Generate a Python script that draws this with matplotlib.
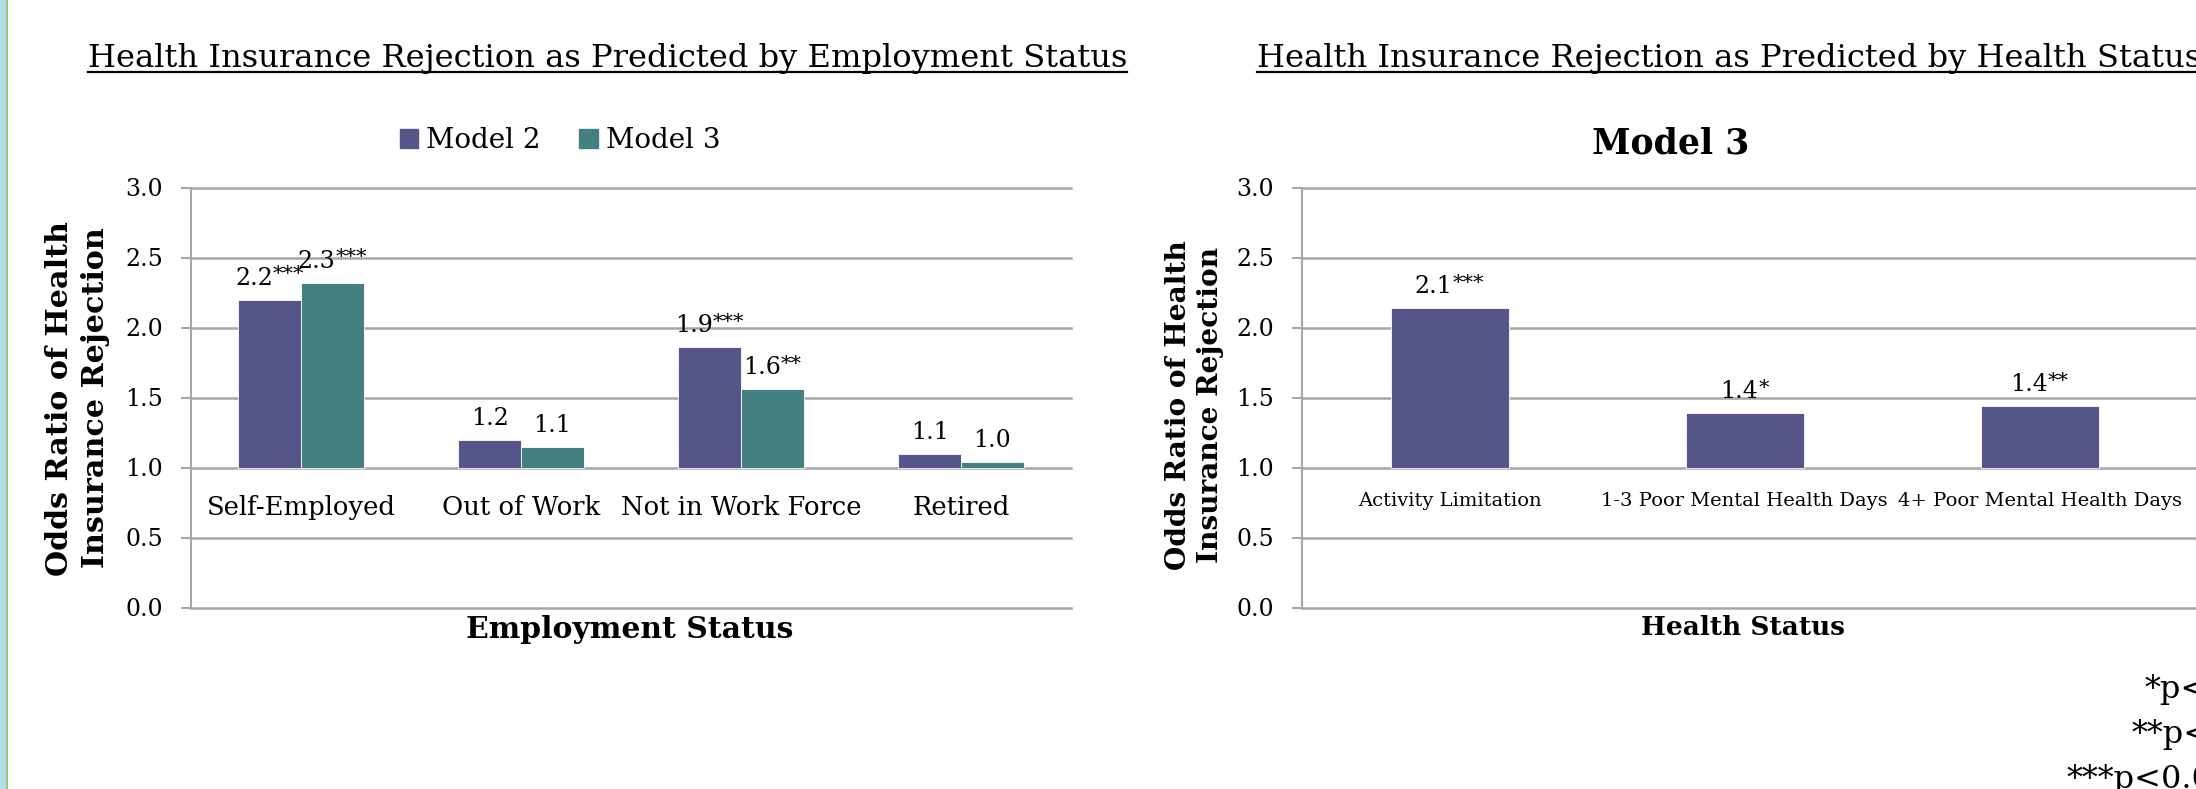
import matplotlib
matplotlib.use("Agg")
import numpy as np
import matplotlib.pyplot as plt
from matplotlib.lines import Line2D
from matplotlib.patches import Patch, Rectangle
from matplotlib.transforms import IdentityTransform

# ---------------- data ----------------
emp_categories = ["Self-Employed", "Out of Work", "Not in Work Force", "Retired"]
model2_values = [2.20, 1.20, 1.86, 1.10]
model3_values = [2.32, 1.15, 1.56, 1.04]
model2_text = ["2.2", "1.2", "1.9", "1.1"]
model2_stars = ["***", "", "***", ""]
model3_text = ["2.3", "1.1", "1.6", "1.0"]
model3_stars = ["***", "", "**", ""]

health_categories = ["Activity Limitation", "1-3 Poor Mental Health Days",
                     "4+ Poor Mental Health Days"]
health_values = [2.14, 1.39, 1.44]
health_text = ["2.1", "1.4", "1.4"]
health_stars = ["***", "*", "**"]

y_ticks = [0.0, 0.5, 1.0, 1.5, 2.0, 2.5, 3.0]
y_ticklabels = ["0.0", "0.5", "1.0", "1.5", "2.0", "2.5", "3.0"]
bar_base = 1.0
series_names = ["Model 2", "Model 3"]
footnotes = ["*p<0.05", "**p<0.01", "***p<0.001"]

left_title = "Health Insurance Rejection as Predicted by Employment Status"
right_title = "Health Insurance Rejection as Predicted by Health Status"
ylabel_lines = ["Odds Ratio of Health", "Insurance Rejection"]

# ---------------- style ----------------
C2 = "#55558A"
C3 = "#447F82"
GRID = "#A6A6A6"

plt.rcParams['font.family'] = ['DejaVu Serif']

W, H = 2196, 789
DPI = 100
PT = 72.0 / DPI
fig = plt.figure(figsize=(W / DPI, H / DPI), dpi=DPI)
renderer = fig.canvas.get_renderer()


def fx(x):
    return x / W


def fy(y):
    return 1 - y / H


def fit_width(t, target):
    w = t.get_window_extent(renderer).width
    t.set_fontsize(t.get_fontsize() * target / w)


def fit_height(t, target):
    h = t.get_window_extent(renderer).height
    t.set_fontsize(t.get_fontsize() * target / h)


def text_width(s, fs):
    p = fig.text(0, 0, s, fontsize=fs)
    w = p.get_window_extent(renderer).width
    p.remove()
    return w


# left decorative border
fig.add_artist(Rectangle((0, 0), fx(6), 1, transform=fig.transFigure,
                         color="#B2DCE8", lw=0))
fig.add_artist(Rectangle((fx(6), 0), fx(2.2), 1, transform=fig.transFigure,
                         color="#9CC86A", lw=0))

AX_TOP, AX_BOT = 187.5, 607.5


def style_axes(ax):
    ax.set_ylim(0, 3)
    ax.set_yticks(y_ticks)
    ax.set_yticklabels(y_ticklabels)
    for v in y_ticks:
        ax.axhline(v, color=GRID, lw=1.8, clip_on=False, zorder=0.5)
    for s in ["top", "right", "bottom"]:
        ax.spines[s].set_visible(False)
    ax.spines["left"].set_color(GRID)
    ax.spines["left"].set_linewidth(1.5)
    ax.tick_params(axis='y', length=7, width=1.5, color=GRID, pad=13,
                   labelsize=17)
    ax.set_xticks([])
    ax.set_facecolor("none")


LBL_FS = 17
STAR_FS = 15


def label(ax, x, v, t, s):
    wn = text_width(t, LBL_FS)
    ws = text_width(s, STAR_FS) if s else 0.0
    ax.annotate(t, xy=(x, v), xytext=(-ws / 2 * PT, 7),
                textcoords="offset points", ha="center", va="bottom",
                fontsize=LBL_FS)
    if s:
        ax.annotate(s, xy=(x, v), xytext=((wn - ws) / 2 * PT, 11),
                    textcoords="offset points", ha="left", va="bottom",
                    fontsize=STAR_FS)


# ---------------- left chart ----------------
axL = fig.add_axes([fx(191), fy(AX_BOT), fx(1071 - 191), (AX_BOT - AX_TOP) / H])
style_axes(axL)
xL = np.arange(len(emp_categories))
bw = 0.285
axL.set_xlim(-0.5, len(emp_categories) - 0.5)
axL.bar(xL - bw / 2, np.array(model2_values) - bar_base, bottom=bar_base,
        width=bw, color=C2, edgecolor="white", linewidth=0.6, zorder=2)
axL.bar(xL + bw / 2, np.array(model3_values) - bar_base, bottom=bar_base,
        width=bw, color=C3, edgecolor="white", linewidth=0.6, zorder=2)
for i in range(len(emp_categories)):
    label(axL, xL[i] - bw / 2, model2_values[i], model2_text[i], model2_stars[i])
    label(axL, xL[i] + bw / 2, model3_values[i], model3_text[i], model3_stars[i])
    axL.text(xL[i], 0.715, emp_categories[i], ha="center", va="center",
             fontsize=18.6)

# ---------------- right chart ----------------
axR = fig.add_axes([fx(1302), fy(AX_BOT), fx(2196 - 1302), (AX_BOT - AX_TOP) / H])
style_axes(axR)
xR = np.arange(len(health_categories))
bwr = 0.40
axR.set_xlim(-0.5, len(health_categories) - 0.5 + 0.03)
axR.bar(xR, np.array(health_values) - bar_base, bottom=bar_base, width=bwr,
        color=C2, edgecolor="white", linewidth=0.6, zorder=2)
for i in range(len(health_categories)):
    label(axR, xR[i], health_values[i], health_text[i], health_stars[i])
    axR.text(xR[i], 0.76, health_categories[i], ha="center", va="center",
             fontsize=14)

# ---------------- titles ----------------
tL = fig.text(fx(88), fy(67), left_title, ha="left", va="baseline", fontsize=24)
fit_width(tL, 1043)
tR = fig.text(fx(1257), fy(67), right_title, ha="left", va="baseline",
              fontsize=tL.get_fontsize())
for t in (tL, tR):
    bb = t.get_window_extent(renderer)
    fig.add_artist(Line2D([bb.x0, bb.x1], [H - 71.5, H - 71.5], color="black",
                          lw=1.6, transform=IdentityTransform()))

sub = fig.text(fx(1671), fy(153), "Model 3", ha="center", va="baseline",
               fontsize=26, fontweight="bold")
fit_width(sub, 158)

# x-axis titles
xtL = fig.text(fx(630), fy(638), "Employment Status", ha="center",
               va="baseline", fontsize=20, fontweight="bold")
fit_width(xtL, 328)
xtR = fig.text(fx(1743), fy(635), "Health Status", ha="center",
               va="baseline", fontsize=16, fontweight="bold")
fit_width(xtR, 204)

# y-axis titles (two lines each)
for (x1, x2, yc, ln) in [(60, 96, 398, 355), (1178, 1211, 405, 330)]:
    a = fig.text(fx(x1), fy(yc), ylabel_lines[0], rotation=90, ha="center",
                 va="center", fontsize=20, fontweight="bold")
    fit_height(a, ln)
    fig.text(fx(x2), fy(yc), ylabel_lines[1], rotation=90, ha="center",
             va="center", fontsize=a.get_fontsize(), fontweight="bold")

# legend
fig.legend(handles=[Patch(color=C2), Patch(color=C3)],
           labels=series_names, loc="center",
           bbox_to_anchor=(fx(560), fy(141)),
           bbox_transform=fig.transFigure, ncol=2, frameon=False,
           fontsize=20, handlelength=0.65, handleheight=0.65,
           handletextpad=0.3, columnspacing=1.4)

# footnotes (run past the right edge, as in the reference)
for note, xs, base in zip(footnotes, [2145, 2132, 2067], [698, 743, 788]):
    fig.text(fx(xs), fy(base), note, ha="left", va="baseline", fontsize=23)

fig.savefig("out.png", dpi=DPI)
